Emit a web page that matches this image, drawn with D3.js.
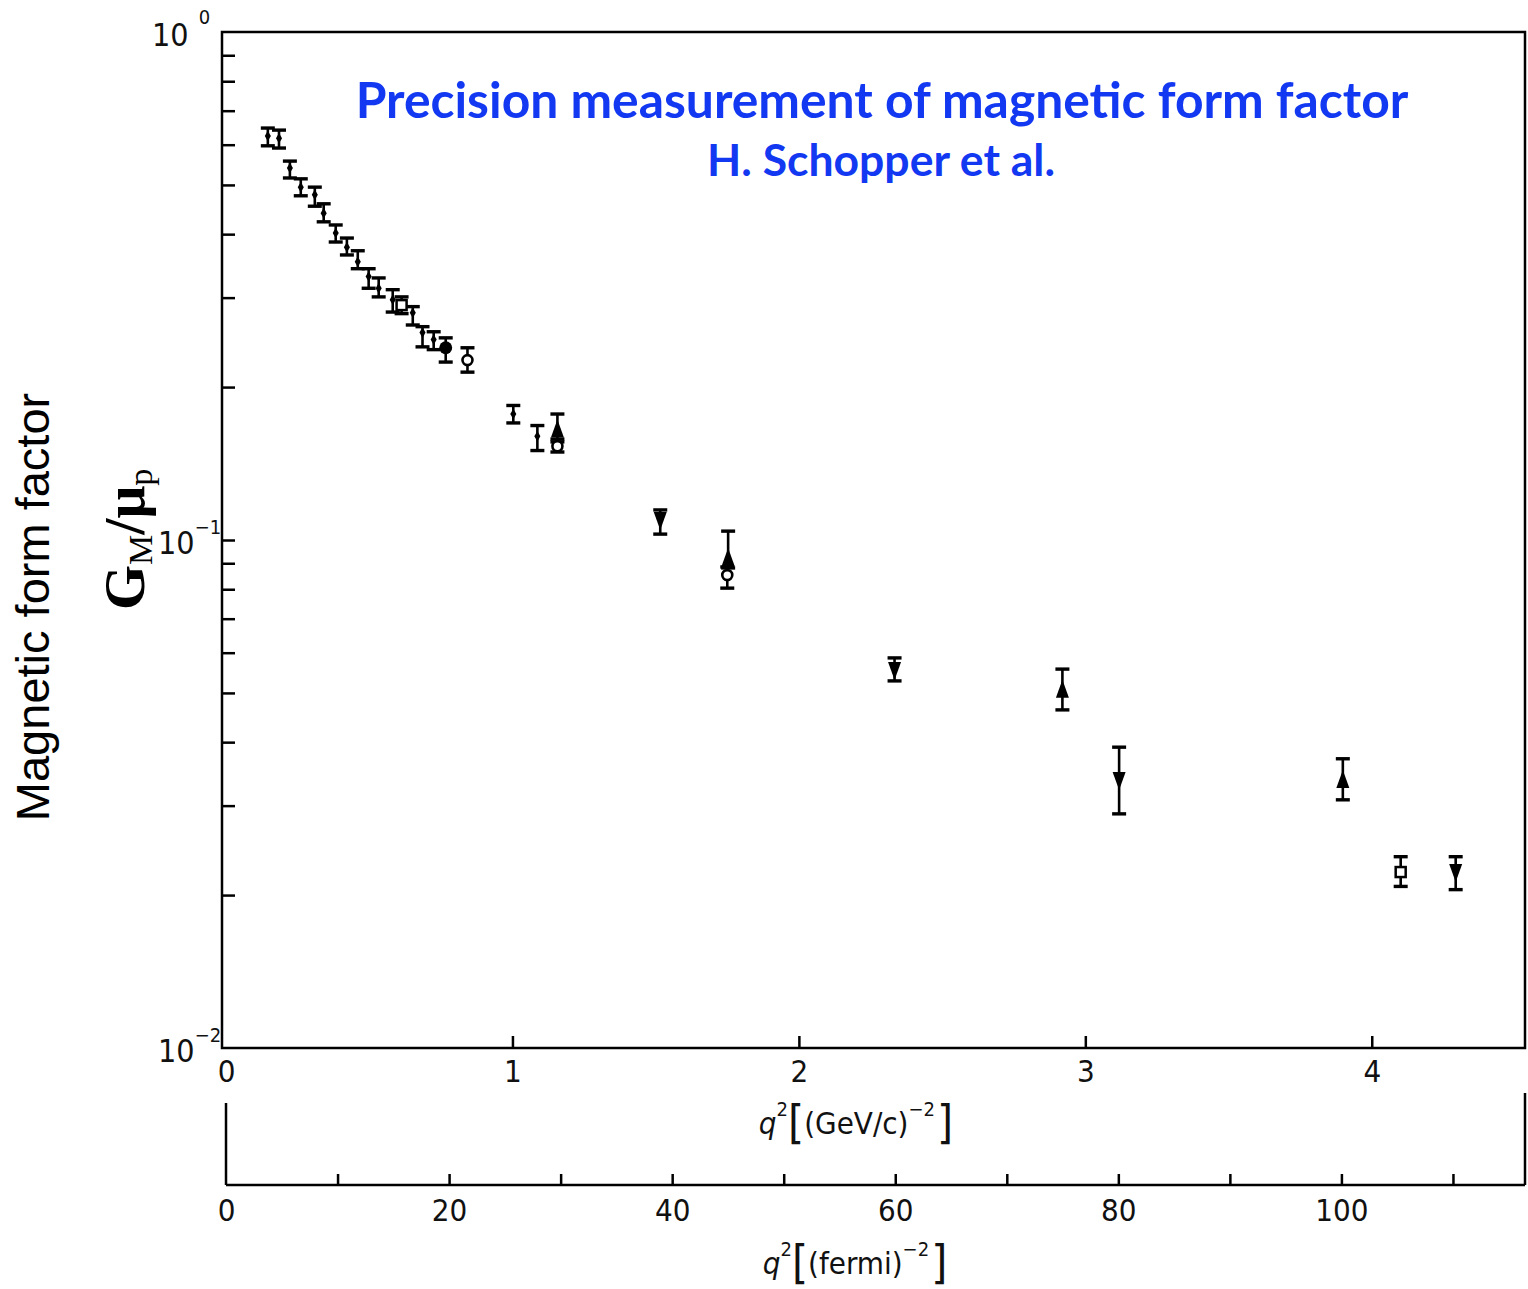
<!DOCTYPE html>
<html>
<head>
<meta charset="utf-8">
<script src="https://cdn.jsdelivr.net/npm/d3@7"></script>
<style>
  body { margin: 0; background: #fff; }
  svg { display: block; }
</style>
</head>
<body>
<div id="chart"></div>
<script>
// each point: [q2 (GeV/c)^2, G_M/mu_p, lower error, upper error]
const plainPts = [
  [0.146, 0.624, 0.597, 0.647],
  [0.185, 0.618, 0.591, 0.641],
  [0.223, 0.540, 0.516, 0.557],
  [0.261, 0.495, 0.476, 0.514],
  [0.310, 0.478, 0.454, 0.495],
  [0.341, 0.440, 0.423, 0.459],
  [0.383, 0.402, 0.386, 0.417],
  [0.422, 0.377, 0.364, 0.393],
  [0.460, 0.353, 0.342, 0.371],
  [0.498, 0.330, 0.313, 0.342],
  [0.533, 0.313, 0.301, 0.328],
  [0.582, 0.297, 0.281, 0.311],
  [0.652, 0.280, 0.265, 0.288],
  [0.686, 0.256, 0.240, 0.263],
  [0.725, 0.248, 0.237, 0.257],
  [1.003, 0.177, 0.170, 0.184],
  [1.087, 0.160, 0.150, 0.168]
];
const openSquarePts = [
  [0.613, 0.290, 0.279, 0.301],
  [4.101, 0.0222, 0.0208, 0.0238]
];
const filledCirclePts = [
  [0.767, 0.239, 0.224, 0.250]
];
const openCirclePts = [
  [0.843, 0.226, 0.214, 0.239],
  [1.157, 0.153, 0.149, 0.158],
  [1.750, 0.0853, 0.0804, 0.0885]
];
const upTrianglePts = [
  [1.157, 0.165, 0.156, 0.177],
  [1.753, 0.0922, 0.0881, 0.1041],
  [2.920, 0.0507, 0.0463, 0.0557],
  [3.899, 0.0337, 0.0308, 0.0371]
];
const downTrianglePts = [
  [1.516, 0.1095, 0.1027, 0.1146],
  [2.334, 0.0555, 0.0528, 0.0586],
  [3.118, 0.0337, 0.0289, 0.0391],
  [4.293, 0.0222, 0.0205, 0.0238]
];

const gevTicks = [0, 1, 2, 3, 4];
const fermiTicks = [0, 10, 20, 30, 40, 50, 60, 70, 80, 90, 100, 110];
const fermiLabels = [0, 20, 40, 60, 80, 100];
const yTicks = [0.02, 0.03, 0.04, 0.05, 0.06, 0.07, 0.08, 0.09, 0.1,
                0.2, 0.3, 0.4, 0.5, 0.6, 0.7, 0.8, 0.9];
const yLabels = [[1, "0"], [0.1, "\u22121"], [0.01, "\u22122"]];

const fmPerGeV = 25.68;   // 1 (GeV/c)^2 in fermi^-2

const W = 1528, H = 1289;
const pLeft = 222, pRight = 1525, pTop = 32, pBottom = 1048, fermiY = 1185;
const tickFont = "'DejaVu Sans Condensed', 'DejaVu Sans', sans-serif";

const svg = d3.select("#chart").append("svg").attr("width", W).attr("height", H);

const x = d3.scaleLinear().domain([-0.014, 4.535]).range([pLeft, pRight]);
const xF = d3.scaleLinear().domain([-0.014 * fmPerGeV, 4.535 * fmPerGeV]).range([pLeft, pRight]);
const y = d3.scaleLog().domain([0.01, 1]).range([pBottom, pTop]);

// frame
svg.append("rect")
  .attr("x", pLeft).attr("y", pTop)
  .attr("width", pRight - pLeft).attr("height", pBottom - pTop)
  .attr("fill", "none").attr("stroke", "#000").attr("stroke-width", 2.5);

// y axis ticks (inside)
const yAxis = svg.append("g")
  .attr("transform", `translate(${pLeft},0)`)
  .call(d3.axisRight(y).tickValues(yTicks).tickSize(13).tickFormat(""));
yAxis.select(".domain").remove();
yAxis.selectAll("line").attr("stroke-width", 2.5);

// y labels 10^n
yLabels.forEach(([v, ex]) => {
  const t = svg.append("text")
    .attr("x", v === 1 ? 152 : 158)
    .attr("y", y(v) + 14)
    .attr("font-family", tickFont).attr("font-size", 32).attr("fill", "#111");
  t.append("tspan").text("10");
  t.append("tspan").text(ex)
    .attr("font-size", 20)
    .attr("dx", v === 1 ? 10 : 0)
    .attr("dy", v === 1 ? -22 : -20);
});

// GeV axis
const xAxis = svg.append("g")
  .attr("transform", `translate(0,${pBottom})`)
  .call(d3.axisBottom(x).tickValues(gevTicks).tickSize(-12).tickSizeOuter(0).tickPadding(12)
    .tickFormat(d3.format("d")));
xAxis.select(".domain").remove();
xAxis.selectAll("line").attr("stroke-width", 2.5);
xAxis.selectAll(".tick").filter(d => d === 0).select("line").remove();
xAxis.selectAll("text").attr("font-family", tickFont).attr("font-size", 31).attr("fill", "#111");

// fermi axis
svg.append("line")
  .attr("x1", xF(0)).attr("x2", xF(0)).attr("y1", 1103).attr("y2", fermiY)
  .attr("stroke", "#000").attr("stroke-width", 2.5);
svg.append("line")
  .attr("x1", pRight).attr("x2", pRight).attr("y1", 1093).attr("y2", fermiY)
  .attr("stroke", "#000").attr("stroke-width", 2.5);
svg.append("line")
  .attr("x1", xF(0)).attr("x2", pRight).attr("y1", fermiY).attr("y2", fermiY)
  .attr("stroke", "#000").attr("stroke-width", 2.5);
const fAxis = svg.append("g")
  .attr("transform", `translate(0,${fermiY})`)
  .call(d3.axisBottom(xF).tickValues(fermiTicks).tickSize(-11).tickSizeOuter(0).tickPadding(14)
    .tickFormat(d => fermiLabels.includes(d) ? d : ""));
fAxis.select(".domain").remove();
fAxis.selectAll("line").attr("stroke-width", 2.5);
fAxis.selectAll(".tick").filter(d => d === 0).select("line").remove();
fAxis.selectAll("text").attr("font-family", tickFont).attr("font-size", 31).attr("fill", "#111");

// axis titles q^2[...]
function qTitle(cx, by, unit) {
  const t = svg.append("text")
    .attr("x", cx).attr("y", by).attr("text-anchor", "middle")
    .attr("font-family", tickFont).attr("font-size", 31).attr("fill", "#111");
  t.append("tspan").text("q").attr("font-style", "italic");
  t.append("tspan").text("2").attr("font-size", 20).attr("dy", -18);
  t.append("tspan").text("[").attr("font-size", 46).attr("dy", 22).attr("font-weight", 200);
  t.append("tspan").text(unit).attr("dy", -4);
  t.append("tspan").text("\u22122").attr("font-size", 20).attr("dy", -18);
  t.append("tspan").text("]").attr("font-size", 46).attr("dy", 22).attr("dx", 2).attr("font-weight", 200);
}
qTitle(856, 1134, "(GeV/c)");
qTitle(855, 1274, "(fermi)");

// error bars + markers
function drawSeries(pts, kind) {
  const g = svg.append("g");
  pts.forEach(([q, v, lo, hi]) => {
    const cx = x(q);
    g.append("line")
      .attr("x1", cx).attr("x2", cx).attr("y1", y(lo)).attr("y2", y(hi))
      .attr("stroke", "#000").attr("stroke-width", 2.6);
    [lo, hi].forEach(e => {
      g.append("line")
        .attr("x1", cx - 7).attr("x2", cx + 7).attr("y1", y(e)).attr("y2", y(e))
        .attr("stroke", "#000").attr("stroke-width", 3.4);
    });
    const cy = y(v);
    if (kind === "plain") {
      g.append("path").attr("d", d3.symbol(d3.symbolDiamond, 32)())
        .attr("transform", `translate(${cx},${cy})`).attr("fill", "#000");
    } else if (kind === "openSquare") {
      g.append("rect").attr("x", cx - 5).attr("y", cy - 5).attr("width", 10).attr("height", 10)
        .attr("fill", "#fff").attr("stroke", "#000").attr("stroke-width", 2.5);
    } else if (kind === "filledCircle") {
      g.append("circle").attr("cx", cx).attr("cy", cy).attr("r", 6.5).attr("fill", "#000");
    } else if (kind === "openCircle") {
      g.append("circle").attr("cx", cx).attr("cy", cy).attr("r", 5)
        .attr("fill", "#fff").attr("stroke", "#000").attr("stroke-width", 2.6);
    } else {
      const s = kind === "up" ? 1 : -1;
      g.append("path")
        .attr("d", `M0,${-10 * s}L6.5,${8 * s}L-6.5,${8 * s}Z`)
        .attr("transform", `translate(${cx},${cy})`).attr("fill", "#000");
    }
  });
}
drawSeries(plainPts, "plain");
drawSeries(openSquarePts, "openSquare");
drawSeries(filledCirclePts, "filledCircle");
drawSeries(upTrianglePts, "up");
drawSeries(downTrianglePts, "down");
drawSeries(openCirclePts, "openCircle");

// titles
function fitText(sel, width) {
  const len = sel.node().getComputedTextLength();
  sel.attr("font-size", parseFloat(sel.attr("font-size")) * width / len);
}
const title = svg.append("text")
  .attr("x", 882).attr("y", 118).attr("text-anchor", "middle")
  .attr("font-family", "Lato, 'Open Sans', sans-serif").attr("font-weight", "bold")
  .attr("font-size", 44).attr("fill", "#1238f2")
  .text("Precision measurement of magnetic form factor");
fitText(title, 1053);
const sub = svg.append("text")
  .attr("x", 881).attr("y", 176).attr("text-anchor", "middle")
  .attr("font-family", "Lato, 'Open Sans', sans-serif").attr("font-weight", "bold")
  .attr("font-size", 38).attr("fill", "#1238f2")
  .text("H. Schopper et al.");
fitText(sub, 348);

// y axis labels
svg.append("text")
  .attr("transform", "translate(49,607) rotate(-90)")
  .attr("text-anchor", "middle")
  .attr("font-family", "'Liberation Sans', Arial, sans-serif")
  .attr("font-size", 47).attr("fill", "#000")
  .text("Magnetic form factor");

const gm = svg.append("text")
  .attr("transform", "translate(144,610) rotate(-90)")
  .attr("font-family", "'Liberation Serif', 'Times New Roman', serif")
  .attr("font-weight", "bold").attr("font-size", 58).attr("fill", "#000");
gm.append("tspan").text("G");
gm.append("tspan").text("M").attr("font-size", 34).attr("dy", 8).attr("font-weight", "normal");
gm.append("tspan").text("/\u03bc").attr("dy", -8);
gm.append("tspan").text("p").attr("font-size", 34).attr("dy", 8).attr("font-weight", "normal");
</script>
</body>
</html>
